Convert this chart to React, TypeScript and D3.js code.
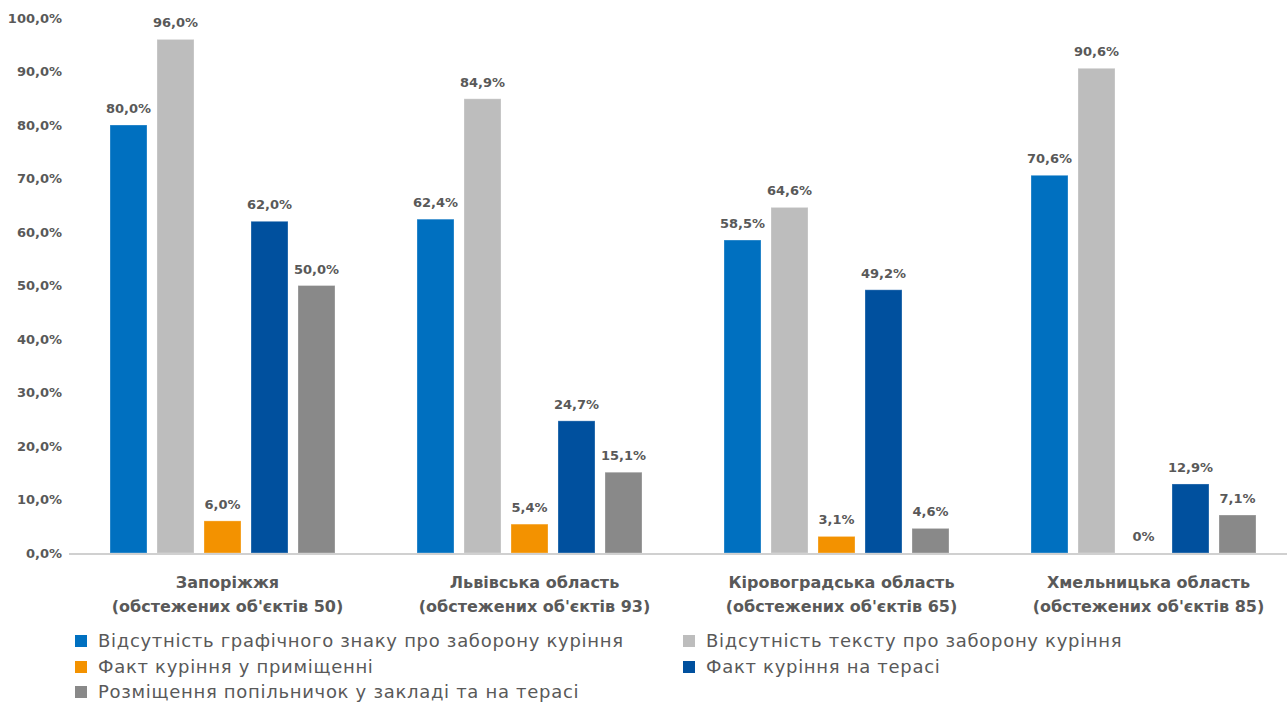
import React from "react";
import * as d3 from "d3";

const categories = ["Запоріжжя", "Львівська область", "Кіровоградська область", "Хмельницька область"];
const subLabels = ["(обстежених об'єктів 50)", "(обстежених об'єктів 93)", "(обстежених об'єктів 65)", "(обстежених об'єктів 85)"];
const seriesNames = [
  "Відсутність графічного знаку про заборону куріння",
  "Відсутність тексту про заборону куріння",
  "Факт куріння у приміщенні",
  "Факт куріння на терасі",
  "Розміщення попільничок у закладі та на терасі",
];
const seriesColors = ["#0070C0", "#BDBDBD", "#F39200", "#00509E", "#898989"];
const graphicSign = [80.0, 62.4, 58.5, 70.6];
const textSign = [96.0, 84.9, 64.6, 90.6];
const smokingInside = [6.0, 5.4, 3.1, 0];
const smokingTerrace = [62.0, 24.7, 49.2, 12.9];
const ashtrays = [50.0, 15.1, 4.6, 7.1];
const series = [graphicSign, textSign, smokingInside, smokingTerrace, ashtrays];
const yTicks = [0, 10, 20, 30, 40, 50, 60, 70, 80, 90, 100];

const W = 1287;
const H = 702;
const FONT = "'DejaVu Sans', sans-serif";
const TXT = "#595959";

export default function App() {
  const y = d3.scaleLinear().domain([0, 100]).range([553, 18]);
  const x0 = d3.scaleBand<number>().domain(d3.range(categories.length)).range([69, 1297]).paddingInner(0).paddingOuter(0);
  const x1 = d3.scaleBand<number>().domain(d3.range(series.length)).range([41, x0.bandwidth() - 41]).paddingInner(10 / 47).paddingOuter(0);
  const fmt = (v: number) => (v === 0 ? "0%" : v.toFixed(1).replace(".", ",") + "%");

  const legendPos = [
    { x: 75, y: 641 },
    { x: 683, y: 641 },
    { x: 75, y: 667 },
    { x: 683, y: 667 },
    { x: 75, y: 692 },
  ];

  return (
    <svg width={W} height={H} style={{ position: "absolute", left: 0, top: 0, background: "#fff" }} fontFamily={FONT}>
      {yTicks.map((t) => (
        <text key={t} x={62} y={y(t)} dy="0.35em" textAnchor="end" fontSize={13} fontWeight={700} fill={TXT}>
          {t.toFixed(1).replace(".", ",") + "%"}
        </text>
      ))}
      {categories.map((c, ci) =>
        series.map((s, si) => {
          const bx = (x0(ci) ?? 0) + (x1(si) ?? 0);
          const bw = x1.bandwidth();
          const v = s[ci];
          return (
            <g key={`${ci}-${si}`}>
              {v > 0 && (
                <rect x={bx} y={y(v)} width={bw} height={y(0) - y(v)} fill={seriesColors[si]} stroke="#ffffff" strokeOpacity={0.3} strokeWidth={1} />
              )}
              <text x={bx + bw / 2} y={y(v) - 12} textAnchor="middle" fontSize={13} fontWeight={700} fill={TXT}>
                {fmt(v)}
              </text>
            </g>
          );
        })
      )}
      <line x1={69} x2={W} y1={y(0) + 1} y2={y(0) + 1} stroke="#D0D0D0" strokeWidth={2} />
      {categories.map((c, ci) => {
        const cx = (x0(ci) ?? 0) + x0.bandwidth() / 2 + 5;
        return (
          <g key={c}>
            <text x={cx} y={588} textAnchor="middle" fontSize={16} fontWeight={700} fill={TXT}>{c}</text>
            <text x={cx} y={612} textAnchor="middle" fontSize={16} fontWeight={700} fill={TXT}>{subLabels[ci]}</text>
          </g>
        );
      })}
      {seriesNames.map((n, i) => (
        <g key={n}>
          <rect x={legendPos[i].x} y={legendPos[i].y - 6} width={12} height={12} fill={seriesColors[i]} />
          <text x={legendPos[i].x + 23} y={legendPos[i].y} dy="0.35em" fontSize={18} letterSpacing={0.7} fill={TXT}>{n}</text>
        </g>
      ))}
    </svg>
  );
}
